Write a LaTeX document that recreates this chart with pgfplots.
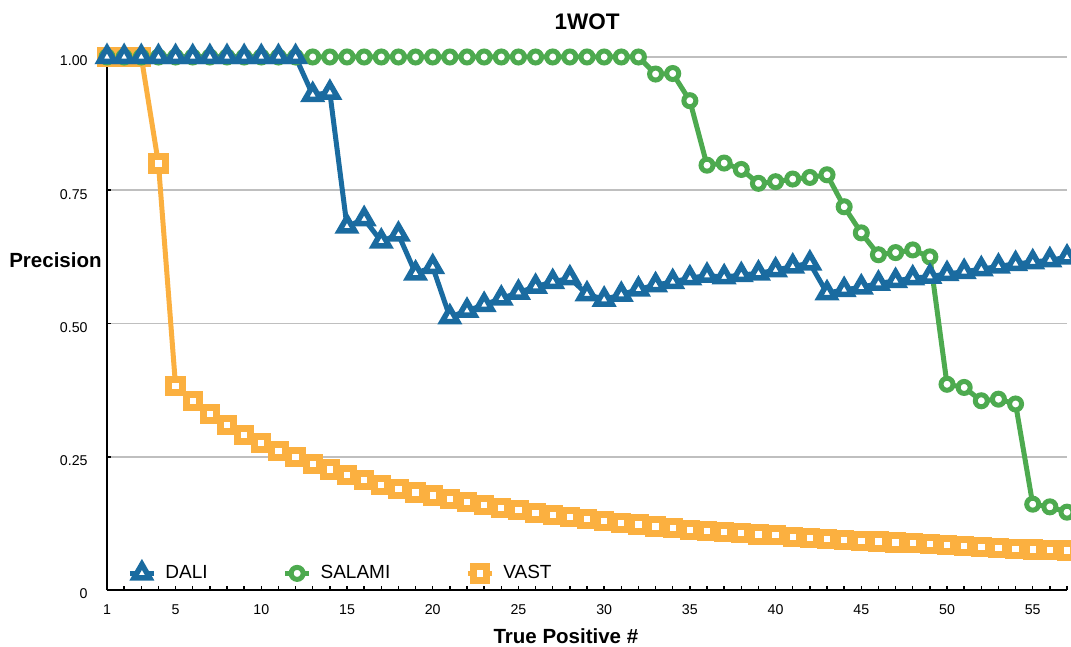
\documentclass[border=0pt]{standalone}
\usepackage{fontspec}
\setmainfont{Liberation Sans}
\usepackage{pgfplots}
\pgfplotsset{compat=1.18}
\usetikzlibrary{calc}
\definecolor{dali}{RGB}{26,107,160}
\definecolor{salami}{RGB}{77,170,79}
\definecolor{vast}{RGB}{251,176,64}
\begin{document}
\begin{tikzpicture}
\begin{axis}[
  scale only axis, width=480pt, height=266.5pt,
  xmin=1, xmax=57, ymin=0, ymax=1,
  clip=false,
  axis lines*=left,
  axis line style={black, line width=1pt},
  tick align=inside,
  major tick length=2pt, minor tick length=2pt,
  tick style={black, line width=0.75pt},
  xtick={1,5,10,15,20,25,30,35,40,45,50,55},
  minor xtick={1,...,57},
  ytick={0,0.25,0.5,0.75,1},
  yticklabels={0,0.25,0.50,0.75,1.00},
  ymajorgrids,
  grid style={gray!50, line width=0.75pt},
  /pgf/number format/assume math mode=true,
  tick label style={font=\fontsize{7.1}{8}\selectfont},
  xticklabel style={inner sep=0pt, anchor=north, yshift=-7pt},
  yticklabel style={inner sep=0pt, anchor=east, xshift=-9.5pt, yshift=-2pt},
  title={1WOT},
  title style={font=\bfseries\fontsize{11.25}{13}\selectfont, inner sep=0pt, at={(rel axis cs:0.5,1)}, anchor=base, yshift=7.5pt},
  xlabel={True Positive \#},
  xlabel style={font=\bfseries\fontsize{10.25}{12}\selectfont, inner sep=0pt, at={(rel axis cs:0.478,0)}, anchor=base, yshift=-26.5pt},
  ylabel={Precision},
  ylabel style={font=\bfseries\fontsize{10.25}{12}\selectfont, inner sep=0pt, rotate=-90, at={(rel axis cs:0,0.6054)}, anchor=base east, xshift=-2.5pt},
  legend columns=-1,
  legend image code/.code={\draw[mark repeat=2,mark phase=2,#1] plot coordinates {(0pt,0pt) (6pt,0pt) (12pt,0pt)};},
  legend style={draw=none, fill=none, inner sep=0pt, at={(rel axis cs:0,0.032)}, anchor=west, xshift=10pt,
    font=\fontsize{9.5}{11}\selectfont,
    nodes={inner sep=0pt, anchor=west},
    /tikz/every odd column/.append style={column sep=4.5pt},
    /tikz/every even column/.append style={column sep=37.5pt}},
  dalistyle/.style={color=dali, line width=2.5pt, mark=triangle*, mark size=4.5pt, mark options={fill=white, line width=2.75pt, solid}},
  salamistyle/.style={color=salami, line width=2.5pt, mark=*, mark size=3pt, mark options={fill=white, line width=2.5pt, solid}},
  vaststyle/.style={color=vast, line width=2.5pt, mark=square*, mark size=3.35pt, mark options={fill=white, line width=3.5pt, solid}},
]
\addlegendimage{dalistyle}
\addlegendimage{salamistyle}
\addlegendimage{vaststyle}
\addplot[vaststyle, forget plot] coordinates {
(1,1.0)(2,1.0)(3,1.0)(4,0.8)(5,0.383)(6,0.355)(7,0.330)(8,0.310)(9,0.291)(10,0.276)
(11,0.261)(12,0.249)(13,0.236)(14,0.226)(15,0.216)(16,0.206)(17,0.197)(18,0.190)(19,0.183)(20,0.177)
(21,0.171)(22,0.165)(23,0.159)(24,0.154)(25,0.150)(26,0.145)(27,0.141)(28,0.137)(29,0.133)(30,0.129)
(31,0.126)(32,0.123)(33,0.119)(34,0.116)(35,0.113)(36,0.111)(37,0.109)(38,0.107)(39,0.104)(40,0.103)
(41,0.100)(42,0.098)(43,0.096)(44,0.094)(45,0.092)(46,0.091)(47,0.089)(48,0.088)(49,0.086)(50,0.084)
(51,0.082)(52,0.081)(53,0.079)(54,0.077)(55,0.076)(56,0.075)(57,0.074)};
\addplot[salamistyle, forget plot] coordinates {
(1,1.0)(2,1.0)(3,1.0)(4,1.0)(5,1.0)(6,1.0)(7,1.0)(8,1.0)(9,1.0)(10,1.0)
(11,1.0)(12,1.0)(13,1.0)(14,1.0)(15,1.0)(16,1.0)(17,1.0)(18,1.0)(19,1.0)(20,1.0)
(21,1.0)(22,1.0)(23,1.0)(24,1.0)(25,1.0)(26,1.0)(27,1.0)(28,1.0)(29,1.0)(30,1.0)
(31,1.0)(32,1.0)(33,0.968)(34,0.969)(35,0.918)(36,0.797)(37,0.801)(38,0.789)(39,0.763)(40,0.766)
(41,0.771)(42,0.774)(43,0.779)(44,0.719)(45,0.670)(46,0.629)(47,0.633)(48,0.638)(49,0.625)(50,0.386)
(51,0.380)(52,0.355)(53,0.358)(54,0.349)(55,0.161)(56,0.156)(57,0.146)};
\addplot[dalistyle, forget plot] coordinates {
(1,1.0)(2,1.0)(3,1.0)(4,1.0)(5,1.0)(6,1.0)(7,1.0)(8,1.0)(9,1.0)(10,1.0)
(11,1.0)(12,1.0)(13,0.929)(14,0.933)(15,0.682)(16,0.696)(17,0.654)(18,0.667)(19,0.594)(20,0.606)
(21,0.512)(22,0.524)(23,0.535)(24,0.547)(25,0.558)(26,0.569)(27,0.578)(28,0.585)(29,0.555)(30,0.545)
(31,0.554)(32,0.564)(33,0.572)(34,0.578)(35,0.585)(36,0.590)(37,0.587)(38,0.591)(39,0.594)(40,0.600)
(41,0.607)(42,0.613)(43,0.557)(44,0.563)(45,0.568)(46,0.575)(47,0.580)(48,0.585)(49,0.588)(50,0.593)
(51,0.597)(52,0.602)(53,0.607)(54,0.612)(55,0.615)(56,0.619)(57,0.624)};
\legend{DALI,SALAMI,VAST}
\coordinate (sw) at (rel axis cs:0,0);
\coordinate (ne) at (rel axis cs:1,1);
\end{axis}
\pgfresetboundingbox
\useasboundingbox ($(sw)+(-53.5pt,-28pt)$) rectangle ($(ne)+(2pt,28.5pt)$);
\end{tikzpicture}
\end{document}
